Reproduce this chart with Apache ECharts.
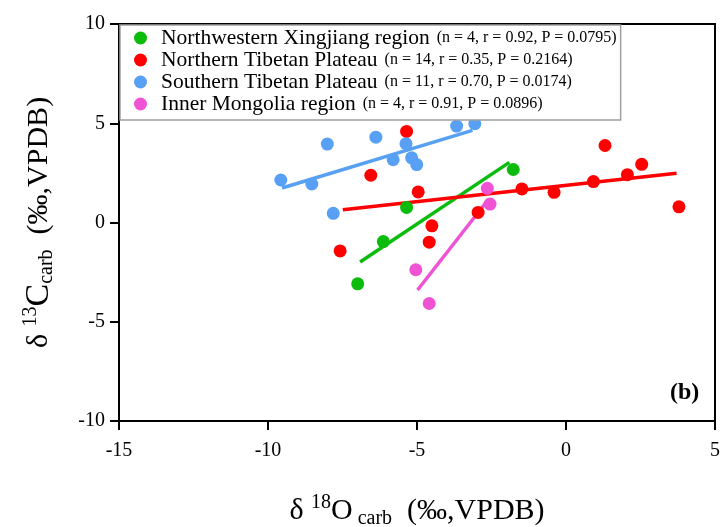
<!DOCTYPE html>
<html>
<head>
<meta charset="utf-8">
<script src="https://cdn.jsdelivr.net/npm/echarts@6/dist/echarts.min.js"></script>
<style>
  html, body { margin: 0; padding: 0; background: #fff; }
  #chart { width: 723px; height: 527px; }
</style>
</head>
<body>
<div id="chart"></div>
<script>
// Regions, their correlation statistics and colours
const regionNames = ['Northwestern Xingjiang region', 'Northern Tibetan Plateau', 'Southern Tibetan Plateau', 'Inner Mongolia region'];
const regionStats = ['(n = 4, r = 0.92, P = 0.0795)', '(n = 14, r = 0.35, P = 0.2164)', '(n = 11, r = 0.70, P = 0.0174)', '(n = 4, r = 0.91, P = 0.0896)'];
const regionColors = ['#0cbc0c', '#ff0000', '#58a0f4', '#f052d4'];

// Samples as [δ18O, δ13C] (‰, VPDB)
const xinjiangPts = [[-6.99, -3.09], [-6.13, -0.96], [-5.35, 0.76], [-1.77, 2.67]];
const northTibetPts = [[-7.58, -1.43], [-6.55, 2.38], [-5.35, 4.59], [-4.96, 1.54], [-4.59, -0.99], [-4.50, -0.17], [-2.95, 0.51],
  [-1.48, 1.69], [-0.40, 1.52], [0.92, 2.06], [1.31, 3.88], [2.06, 2.41], [2.54, 2.93], [3.79, 0.79]];
const southTibetPts = [[-9.57, 2.14], [-8.53, 1.94], [-8.01, 3.95], [-7.81, 0.46], [-6.38, 4.30], [-5.80, 3.16], [-5.37, 3.97],
  [-5.18, 3.26], [-5.01, 2.92], [-3.67, 4.86], [-3.06, 4.98]];
const mongoliaPts = [[-5.04, -2.38], [-4.59, -4.08], [-2.64, 1.72], [-2.55, 0.93]];

// Regression line end points for each region
const xinjiangFit = [[-6.91, -1.99], [-1.90, 3.03]];
const northTibetFit = [[-7.49, 0.64], [3.71, 2.48]];
const southTibetFit = [[-9.53, 1.74], [-3.14, 4.64]];
const mongoliaFit = [[-4.98, -3.40], [-2.60, 1.17]];

// Axis ticks
const xTicks = [-15, -10, -5, 0, 5];
const yTicks = [-10, -5, 0, 5, 10];

const pointSets = [xinjiangPts, northTibetPts, southTibetPts, mongoliaPts];
const fitSets = [xinjiangFit, northTibetFit, southTibetFit, mongoliaFit];

const serif = "'Liberation Serif', 'Times New Roman', Times, serif";

const titleRich = {
  m: { fontFamily: serif, fontSize: 30, color: '#000', lineHeight: 36 },
  big: { fontFamily: serif, fontSize: 34, color: '#000', lineHeight: 36 },
  sup: { fontFamily: serif, fontSize: 20, color: '#000', verticalAlign: 'top', lineHeight: 22 },
  sub: { fontFamily: serif, fontSize: 20, color: '#000', verticalAlign: 'bottom', lineHeight: 22 }
};

function axisBase(ticks) {
  return {
    type: 'value',
    min: ticks[0],
    max: ticks[ticks.length - 1],
    interval: ticks[1] - ticks[0],
    splitLine: { show: false },
    axisLine: { show: true, onZero: false, lineStyle: { color: '#000', width: 2 } },
    axisTick: { show: true, inside: false, length: 9, lineStyle: { color: '#000', width: 2 } },
    axisLabel: { fontFamily: serif, fontSize: 20, color: '#000', margin: 14 },
    nameLocation: 'middle'
  };
}

const series = [];
regionNames.forEach((name, i) => {
  series.push({
    name: name + ' trend',
    type: 'line',
    data: fitSets[i],
    showSymbol: false,
    symbol: 'none',
    silent: true,
    z: 2,
    lineStyle: { color: regionColors[i], width: 3.5 },
    itemStyle: { color: regionColors[i] }
  });
});
regionNames.forEach((name, i) => {
  series.push({
    name: name,
    type: 'scatter',
    data: pointSets[i],
    symbol: 'circle',
    symbolSize: 13,
    z: 3,
    itemStyle: { color: regionColors[i], opacity: 1 }
  });
});

const xAxisOpt = axisBase(xTicks);
xAxisOpt.axisLabel.margin = 20;

const chart = echarts.init(document.getElementById('chart'), null, { renderer: 'canvas' });
chart.setOption({
  animation: false,
  backgroundColor: '#fff',
  grid: {
    left: 119, right: 8, top: 24, bottom: 106,
    show: true, borderColor: '#000', borderWidth: 2, backgroundColor: 'transparent',
    outerBoundsMode: 'none'
  },
  xAxis: Object.assign(xAxisOpt, {
    name: '{m|δ }{sup|18}{m|O}{sub| carb}{m|  (‰,VPDB)}',
    nameGap: 72,
    nameTextStyle: { rich: titleRich }
  }),
  yAxis: Object.assign(axisBase(yTicks), {
    name: '{m|δ }{sup|13}{big|C}{sub|carb}{m|  (‰,VPDB)}',
    nameRotate: 90,
    nameGap: 62,
    nameTextStyle: { rich: titleRich }
  }),
  legend: {
    data: regionNames,
    orient: 'vertical',
    left: 120,
    top: 25,
    padding: [2, 4, 5, 14],
    itemGap: 0,
    itemWidth: 13,
    itemHeight: 13,
    icon: 'circle',
    selectedMode: false,
    backgroundColor: '#fff',
    borderColor: '#a0a0a0',
    borderWidth: 1.5,
    formatter: function (name) {
      const i = regionNames.indexOf(name);
      return '{a|' + name + '}{b|' + regionStats[i] + '}';
    },
    textStyle: {
      rich: {
        a: { fontFamily: serif, fontSize: 21.5, color: '#000', lineHeight: 20, padding: [0, 7, 0, 9] },
        b: { fontFamily: serif, fontSize: 16, color: '#000', lineHeight: 20 }
      }
    }
  },
  graphic: [{
    type: 'text',
    left: 670,
    top: 381,
    style: { text: '(b)', font: "bold 24px 'Liberation Serif', 'Times New Roman', serif", fill: '#000' }
  }],
  series: series
});
</script>
</body>
</html>
